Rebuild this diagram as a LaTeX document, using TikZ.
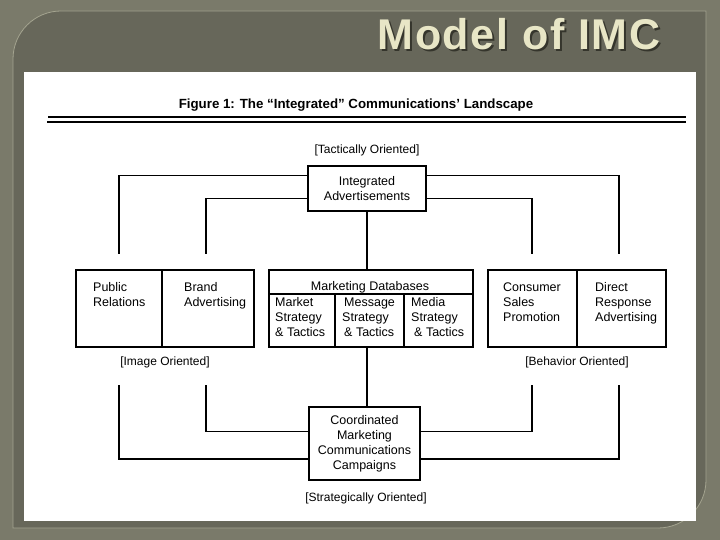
\documentclass[tikz,border=0pt]{standalone}
\usepackage{fontspec}
\setmainfont{Liberation Sans}
\newfontfamily\titlefont[LetterSpace=4]{Liberation Sans}
\usepackage{tikz}
\usetikzlibrary{positioning, calc}

\definecolor{outerbg}{HTML}{7A7A6A}
\definecolor{panelbg}{HTML}{67675A}
\definecolor{panelrim}{HTML}{A4A490}
\definecolor{titlecream}{HTML}{E8E6C6}
\definecolor{titleshade}{HTML}{35352C}

\newcommand{\shadedtitle}[1]{%
  \makebox[0pt][l]{\hspace{2pt}\raisebox{-2pt}{\textcolor{titleshade}{#1}}}%
  \textcolor{titlecream}{#1}}

\begin{document}
\begin{tikzpicture}[
  x=1pt, y=-1pt,
  cell/.style={draw, line width=1.1pt, minimum height=77pt, inner sep=0pt},
  boxtext/.style={anchor=north west, align=left, inner sep=0pt, font=\fontsize{12.5}{15}\selectfont},
  centerbox/.style={draw, line width=1.1pt, align=center, inner sep=0pt, font=\fontsize{12.5}{15}\selectfont},
  orient/.style={font=\fontsize{12}{14}\selectfont, inner sep=0pt},
  link/.style={line width=1.2pt},
  title/.style={font=\titlefont\bfseries\fontsize{43}{48}\selectfont, anchor=base, inner sep=0pt}
]
  % slide background
  \useasboundingbox (0,0) rectangle (720,540);
  \fill[outerbg] (0,0) rectangle (720,540);
  \filldraw[fill=panelbg, draw=panelrim, line width=0.8pt]
    (13,528) -- (13,59) arc[start angle=180, end angle=270, radius=48]
    -- (706,11) -- (706,480) arc[start angle=0, end angle=90, radius=48] -- cycle;
  \fill[white] (24,72) rectangle (696,521);

  \node[title] (title) at (519,50) {\shadedtitle{Model of IMC}};

  % figure heading
  \node[font=\bfseries\fontsize{13.3}{15}\selectfont] (fighead) at (356,105)
    {Figure 1: The “Integrated” Communications’ Landscape};
  \draw[line width=1.1pt] (48,117) -- (686,117);
  \draw[line width=2pt] (47,122) -- (686,122);

  % boxes
  \node[centerbox, minimum width=118pt, minimum height=45pt] (ia) at (367,188.5)
    {Integrated\\Advertisements};
  \node[centerbox, minimum width=111pt, minimum height=73pt] (cmc) at (364.5,443.5)
    {Coordinated\\Marketing\\Communications\\Campaigns};

  \node[cell, minimum width=86pt] (pr) at (119,308.5) {};
  \node[cell, minimum width=92pt] (ba) at (208,308.5) {};
  \node[cell, minimum width=204pt] (mdb) at (371,308.5) {};
  \node[cell, minimum width=89pt] (cs) at (532.5,308.5) {};
  \node[cell, minimum width=89pt] (dr) at (621.5,308.5) {};

  \draw[line width=1.1pt] (269,294) -- (473,294);
  \draw[line width=1.1pt] (335,294) -- (335,347);
  \draw[line width=1.1pt] (404,294) -- (404,347);

  \node[boxtext] (prtxt) at (93,282.5) {Public\\Relations};
  \node[boxtext] (batxt) at (184,282.5) {Brand\\Advertising};
  \node[font=\fontsize{12.5}{15}\selectfont, inner sep=0pt] (mdbtxt) at (370,287) {Marketing Databases};
  \node[boxtext] (mkttxt) at (275,297.5) {Market\\Strategy\\\& Tactics};
  \node[boxtext] (msgtxt) at (342,297.5) {\hspace{2pt}Message\\Strategy\\\hspace{2pt}\& Tactics};
  \node[boxtext] (medtxt) at (411,297.5) {Media\\Strategy\\\hspace{3pt}\& Tactics};
  \node[boxtext] (cstxt) at (503,282.5) {Consumer\\Sales\\Promotion};
  \node[boxtext] (drtxt) at (595,282.5) {Direct\\Response\\Advertising};

  % orientation labels
  \node[orient] (tact) at (367,150) {[Tactically Oriented]};
  \node[orient] (image) at (165,362) {[Image Oriented]};
  \node[orient] (behav) at (577,362) {[Behavior Oriented]};
  \node[orient] (strat) at (366,498) {[Strategically Oriented]};

  % free ends of the connectors
  \coordinate (pr-up) at (119,254);
  \coordinate (ba-up) at (206,254);
  \coordinate (cs-up) at (532,254);
  \coordinate (dr-up) at (619,254);
  \coordinate (pr-dn) at (119,385);
  \coordinate (ba-dn) at (206,385);
  \coordinate (cs-dn) at (532,385);
  \coordinate (dr-dn) at (619,385);

  % connectors
  \draw[link] ($(ia.north west)!0.22!(ia.south west)$) -| (pr-up);
  \draw[link] ($(ia.north west)!0.71!(ia.south west)$) -| (ba-up);
  \draw[link] ($(ia.north east)!0.22!(ia.south east)$) -| (dr-up);
  \draw[link] ($(ia.north east)!0.71!(ia.south east)$) -| (cs-up);
  \draw[link] (ia.south) -- (ia.south |- mdb.north);
  \draw[link] (ia.south |- mdb.south) -- (ia.south |- cmc.north);
  \draw[link] ($(cmc.north west)!0.71!(cmc.south west)$) -| (pr-dn);
  \draw[link] ($(cmc.north west)!0.34!(cmc.south west)$) -| (ba-dn);
  \draw[link] ($(cmc.north east)!0.71!(cmc.south east)$) -| (dr-dn);
  \draw[link] ($(cmc.north east)!0.34!(cmc.south east)$) -| (cs-dn);
\end{tikzpicture}
\end{document}
